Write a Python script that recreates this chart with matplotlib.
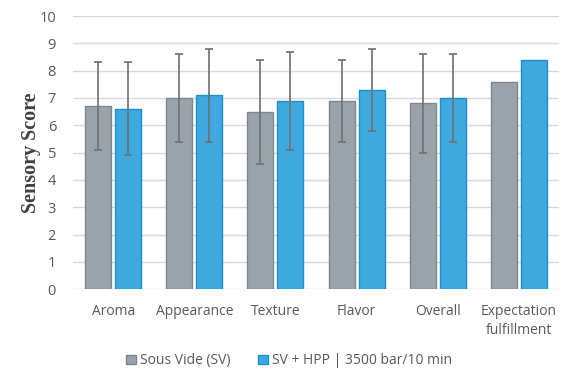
import numpy as np
import matplotlib.pyplot as plt

# --- DATA ---
categorias = ['Aroma', 'Appearance', 'Texture', 'Flavor', 'Overall', 'Expectation\nfulfillment']
sv_media = [6.7, 7.0, 6.5, 6.9, 6.8, 7.6]
sv_erro = [1.6, 1.6, 1.9, 1.5, 1.8, 0]
hpp_media = [6.6, 7.1, 6.9, 7.3, 7.0, 8.4]
hpp_erro = [1.7, 1.7, 1.8, 1.5, 1.6, 0]
yticks = list(range(0, 11))

# --- GRAFICO ---
fig = plt.figure(figsize=(5.73, 3.82), dpi=100)
ax = fig.add_axes([0.127, 0.243, 0.849, 0.715])

x = np.arange(len(categorias))
larg = 0.32
desloc = 0.185

sv_err = [e if e > 0 else np.nan for e in sv_erro]
hpp_err = [e if e > 0 else np.nan for e in hpp_erro]

err_kw = dict(ecolor='#707070', elinewidth=1.2, capsize=3.2, capthick=1.2)
ax.bar(x - desloc, sv_media, larg, color='#9aa3a9', edgecolor='#7d878e', linewidth=1,
       label='Sous Vide (SV)', zorder=3)
ax.bar(x + desloc, hpp_media, larg, color='#3fa9de', edgecolor='#1b8fd2', linewidth=1,
       label='SV + HPP | 3500 bar/10 min', zorder=3)
ax.errorbar(x - desloc, sv_media, yerr=sv_err, fmt='none', zorder=4, **err_kw)
ax.errorbar(x + desloc, hpp_media, yerr=hpp_err, fmt='none', zorder=4, **err_kw)

ax.set_xlim(-0.5, len(categorias) - 0.5)
ax.set_ylim(0, 10)
ax.set_yticks(yticks)
ax.set_xticks(x)
ax.set_xticklabels(categorias, fontsize=10, color='#595959', family='Open Sans', linespacing=1.3)
for t in ax.get_yticklabels():
    t.set_fontsize(10.5)
    t.set_color('#595959')
    t.set_family('Open Sans')
ax.tick_params(length=0, pad=11)
ax.tick_params(axis='y', pad=12)
ax.grid(axis='y', color='#d9d9d9', linewidth=1, zorder=0)
for s in ax.spines.values():
    s.set_visible(False)

ax.set_ylabel('Sensory Score', fontsize=14.5, fontweight='bold', family='Liberation Serif',
              color='#404040')
ax.yaxis.set_label_coords(-0.066, 0.5)

fig.legend(loc='center', bbox_to_anchor=(0.505, 0.055), ncol=2, frameon=False,
           prop={'family': 'Open Sans', 'size': 10}, labelcolor='#595959',
           handlelength=0.7, handleheight=0.7, handletextpad=0.3, columnspacing=2.0)

plt.savefig('out.png', dpi=100)
